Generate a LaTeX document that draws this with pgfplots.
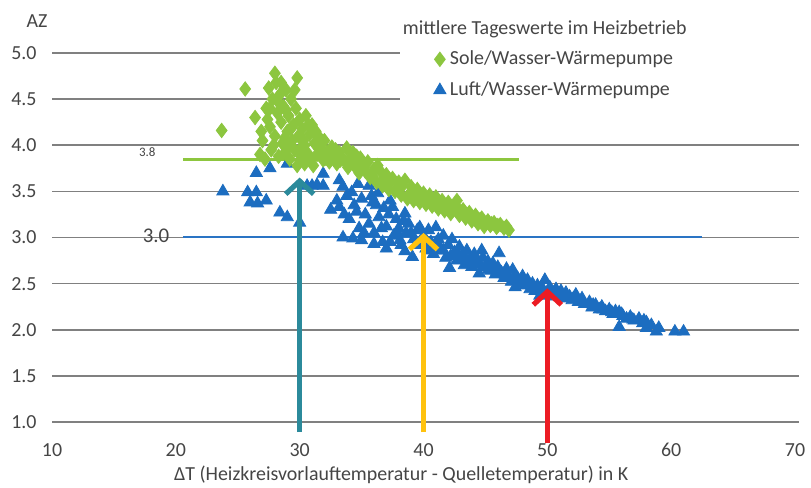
\documentclass[border=0pt]{standalone}
\usepackage{pgfplots}
\pgfplotsset{compat=1.18}
\usepackage{fontspec}
\setmainfont{Carlito}
\usetikzlibrary{arrows.meta}
\definecolor{sole}{HTML}{8CC63F}
\definecolor{luft}{HTML}{1C6DC0}
\definecolor{soleline}{HTML}{8DC63F}
\definecolor{luftline}{HTML}{2A74C4}
\definecolor{gridgray}{HTML}{808080}
\definecolor{txt}{HTML}{454545}
\definecolor{arrteal}{HTML}{2B8A9B}
\definecolor{arrorange}{HTML}{FFC20E}
\definecolor{arrred}{HTML}{EC1C24}
\begin{document}
\begin{tikzpicture}
\begin{axis}[name=ax, set layers=standard,
  scale only axis, width=371.5bp, height=184.5bp,
  xmin=10, xmax=70, ymin=1, ymax=5, clip=false,
  axis line style={draw=none}, major tick length=0pt,
  xtick={10,20,...,70}, ytick={1,1.5,...,5},
  /pgf/number format/assume math mode=true,
  yticklabel={\pgfmathprintnumber[fixed,fixed zerofill,precision=1]{\tick}},
  ticklabel style={font=\fontsize{10}{12}\selectfont, text=txt, inner sep=0pt},
  yticklabel style={anchor=east, xshift=-7.5bp},
  xticklabel style={anchor=north, yshift=-10.5bp},
  reverse legend,
  legend style={at={(axis cs:40.8,5.07)}, anchor=north west, draw=none, fill=none,
    font=\fontsize{10}{12}\selectfont, text=txt, row sep=3bp, inner sep=0pt},
  legend cell align=left,
  legend image code/.code={\draw[mark repeat=2,mark phase=2,#1] plot coordinates {(0cm,0cm) (0.15cm,0cm) (0.3cm,0cm)};},
]
% grid lines
\pgfplotsinvokeforeach{1,1.5,2,2.5,3,3.5,4}{\draw[gridgray, line width=0.8bp] (axis cs:10,#1) -- (axis cs:70.3,#1);}
\pgfplotsinvokeforeach{4.5,5}{\draw[gridgray, line width=0.8bp] (axis cs:10,#1) -- (axis cs:38.1,#1);}
% reference lines
\addplot[soleline, line width=1.5bp, forget plot] coordinates {(20.6,3.85) (47.7,3.85)};
\addplot[luftline, line width=1bp, forget plot] coordinates {(20.6,3.0) (62.5,3.0)};
% Luft/Wasser
\addplot[only marks, mark=triangle*, mark size=3.5bp, color=luft] coordinates {
(23.8,3.50) (25.8,3.49) (26.5,3.49) (26.0,3.38) (26.6,3.37) (27.3,3.40) (26.5,3.70) (27.6,3.75)
(29.0,3.80) (28.4,3.27) (29.0,3.22) (30.0,3.16) (30.6,3.56) (31.0,3.56) (31.4,3.57) (31.9,3.69)
(31.9,3.56) (33.0,3.40) (32.5,3.30) (33.2,3.62) (33.5,3.55) (33.2,3.33) (33.8,3.45) (34.2,3.49)
(34.0,3.20) (34.4,3.35) (34.8,3.10) (33.5,3.00) (34.3,2.99) (35.0,3.42) (35.3,3.25) (35.6,3.56)
(35.6,3.15) (35.9,3.38) (36.0,3.05) (36.3,3.48) (36.4,3.22) (36.7,2.95) (36.8,3.32) (37.0,3.12)
(37.0,2.88) (37.3,3.40) (37.5,3.33) (37.6,3.02) (37.8,3.20) (38.0,3.10) (38.2,2.92) (38.5,3.26)
(38.6,3.05) (38.8,3.15) (39.1,2.79) (39.2,2.98) (39.5,3.08) (39.7,3.11) (34.7,3.58) (38.1,2.97)
(33.6,3.25) (34.6,3.28) (35.2,3.05) (35.8,3.45) (36.2,3.35) (36.6,3.10) (37.2,3.25) (37.9,3.05)
(38.4,3.18) (39.0,3.05) (39.4,2.92) (36.0,2.93) (35.0,2.97) (38.5,2.85) (37.3,2.95)
(40.0,3.02) (40.2,2.88) (40.4,3.08) (40.6,2.95) (40.8,2.82) (41.0,3.11) (41.2,2.98) (41.3,2.86)
(41.4,2.88) (41.6,3.02) (41.8,2.78) (42.0,2.92) (42.1,2.67) (42.3,2.98) (42.5,2.84) (42.7,2.75)
(42.9,2.90) (43.1,2.80) (43.3,2.70) (43.5,2.86) (43.7,2.76) (43.9,2.68) (44.1,2.82) (44.3,2.72)
(44.5,2.61) (44.7,2.86) (44.8,2.78) (45.0,2.68) (45.2,2.74) (45.4,2.64) (45.6,2.72) (45.8,2.60)
(46.0,2.68) (46.1,2.83) (46.3,2.62) (46.5,2.56) (46.7,2.66) (46.9,2.58) (47.1,2.52) (47.2,2.65)
(47.4,2.46) (47.6,2.56) (47.8,2.50) (48.0,2.58) (48.2,2.48) (48.4,2.54) (48.6,2.44) (48.8,2.50)
(49.0,2.42) (49.2,2.48) (49.4,2.37) (49.6,2.45) (49.8,2.54) (50.0,2.40) (50.2,2.46) (50.4,2.36)
(50.7,2.44) (50.9,2.38) (51.1,2.42) (51.3,2.34) (51.5,2.40) (51.8,2.36) (52.0,2.32) (52.3,2.38)
(52.5,2.30) (52.8,2.34) (53.0,2.28) (53.4,2.30) (53.6,2.24) (53.9,2.27) (54.2,2.22) (54.4,2.25)
(54.7,2.20) (55.0,2.22) (55.3,2.17) (55.5,2.20) (55.8,2.19) (55.8,2.03) (56.1,2.15) (56.4,2.12)
(56.7,2.14) (57.0,2.10) (57.4,2.12) (57.7,2.07) (58.0,2.08) (58.0,2.02) (58.4,2.05) (58.8,1.98)
(59.0,2.02) (60.3,1.98) (61.0,1.98)
(40.1,2.94) (40.5,2.86) (41.0,2.94) (41.6,2.86) (42.2,2.80) (42.8,2.82) (43.4,2.78) (44.0,2.74)
(44.6,2.70) (45.3,2.66) (45.9,2.64) (46.6,2.60) (47.3,2.56) (48.1,2.52) (48.9,2.46) (49.7,2.42)
(50.5,2.40) (51.2,2.37) (52.1,2.34) (52.9,2.30) (53.7,2.27) (54.5,2.22) (55.2,2.19) (56.0,2.17)
(56.9,2.11) (57.8,2.10)
};
\addlegendentry{Luft/Wasser-Wärmepumpe}
% Sole/Wasser
\addplot[only marks, mark=diamond*, mark size=3.6bp, color=sole] coordinates {
(23.7,4.16) (25.6,4.61) (26.4,4.30) (28.0,4.78) (29.8,4.73)
(26.8,3.90) (27.0,4.05) (27.2,3.85) (27.3,4.40) (27.5,4.62) (27.6,4.20) (27.7,3.95) (27.8,4.50)
(28.0,4.10) (28.1,4.68) (28.2,4.35) (28.3,3.88) (28.4,4.55) (28.5,4.25) (28.6,4.02) (28.7,4.42)
(28.8,3.92) (28.9,4.60) (29.0,4.15) (29.1,4.32) (29.2,3.85) (29.3,4.50) (29.4,4.05) (29.5,4.22)
(29.6,3.95) (29.7,4.40) (29.9,4.10) (30.0,4.28) (30.1,3.88) (30.2,4.18) (30.4,4.00) (30.5,4.32)
(30.6,3.92) (30.8,4.12) (30.9,3.85) (31.0,4.22) (31.2,4.02) (31.4,3.90) (31.5,4.10) (31.7,3.97)
(31.9,3.84) (32.0,4.05) (32.2,3.92) (32.4,3.82) (32.6,3.98) (32.8,3.88) (33.0,3.80) (33.2,3.92)
(33.5,3.85) (33.8,3.97) (33.9,3.76) (34.1,3.86) (34.4,3.78) (34.6,3.88) (34.8,3.70) (35.0,3.80)
(35.3,3.72) (35.5,3.82) (35.7,3.65) (36.0,3.74) (36.2,3.60) (36.5,3.72) (36.7,3.56) (37.0,3.68)
(37.2,3.52) (37.5,3.64) (37.7,3.50) (38.0,3.60) (38.2,3.46) (38.5,3.62) (38.7,3.42) (39.0,3.55)
(39.2,3.40) (39.5,3.52) (39.7,3.38) (40.0,3.48) (40.2,3.36) (40.5,3.46) (40.7,3.34) (41.0,3.44)
(41.2,3.31) (41.5,3.40) (41.7,3.29) (42.0,3.38) (42.2,3.26) (42.5,3.35) (42.7,3.40) (42.9,3.24)
(43.2,3.30) (43.4,3.21) (43.7,3.27) (43.9,3.18) (44.2,3.24) (44.4,3.15) (44.7,3.21) (44.9,3.12)
(45.2,3.18) (45.4,3.13) (45.7,3.16) (45.9,3.11) (46.2,3.14) (46.5,3.10) (46.9,3.08)
(29.8,3.78) (31.1,3.78) (30.4,3.80)
(32.1,3.86) (32.9,3.95) (33.3,3.84) (33.7,3.82) (34.3,3.92) (34.9,3.86) (35.2,3.76) (35.9,3.66)
(36.3,3.78) (36.8,3.64) (37.3,3.60) (37.9,3.54) (38.3,3.56) (38.9,3.48) (39.3,3.47) (39.8,3.44)
(40.4,3.41) (40.9,3.39) (41.4,3.35) (41.9,3.32) (42.4,3.30) (42.8,3.31) (43.5,3.25) (44.0,3.21)
(44.5,3.19) (45.0,3.15) (45.5,3.15) (46.0,3.13) (46.7,3.12) (26.9,4.15) (27.4,4.28) (28.2,4.48)
(28.9,4.38) (29.3,4.18) (29.6,4.60) (30.3,4.05) (30.7,4.22) (31.3,4.15) (27.9,4.00) (28.8,4.08)
(29.0,3.98) (30.0,3.95) (27.6,4.40) (28.5,4.68)
};
\addlegendentry{Sole/Wasser-Wärmepumpe}
% arrows
\addplot[arrteal, line width=2.6bp, -{Straight Barb[length=6.5bp,width=14bp]}, forget plot, on layer=axis foreground] coordinates {(30,0.89) (30,3.65)};
\addplot[arrorange, line width=2.6bp, -{Straight Barb[length=6.5bp,width=14bp]}, forget plot, on layer=axis foreground] coordinates {(40,0.89) (40,3.05)};
\addplot[arrred, line width=2.6bp, -{Straight Barb[length=6.5bp,width=14bp]}, forget plot, on layer=axis foreground] coordinates {(50,0.77) (50,2.45)};
% texts
\node[font=\fontsize{6.5}{8}\selectfont, text=txt] at (axis cs:17.7,3.92) {3.8};
\node[font=\fontsize{10.5}{12}\selectfont, text=txt] at (axis cs:18.4,3.02) {3.0};
\node[font=\fontsize{10}{12}\selectfont, text=txt] at (axis cs:8.8,5.35) {AZ};
\node[anchor=west, inner sep=0pt, font=\fontsize{10}{12}\selectfont, text=txt] at (axis cs:38.3,5.26) {mittlere Tageswerte im Heizbetrieb};
\node[font=\fontsize{10}{12}\selectfont, text=txt] at (axis cs:38.2,0.43) {ΔT (Heizkreisvorlauftemperatur - Quelletemperatur) in K};
\end{axis}
\pgfresetboundingbox
\path ([xshift=-26bp,yshift=-33bp]ax.south west) rectangle ([xshift=8bp,yshift=26.5bp]ax.north east);
\end{tikzpicture}
\end{document}
